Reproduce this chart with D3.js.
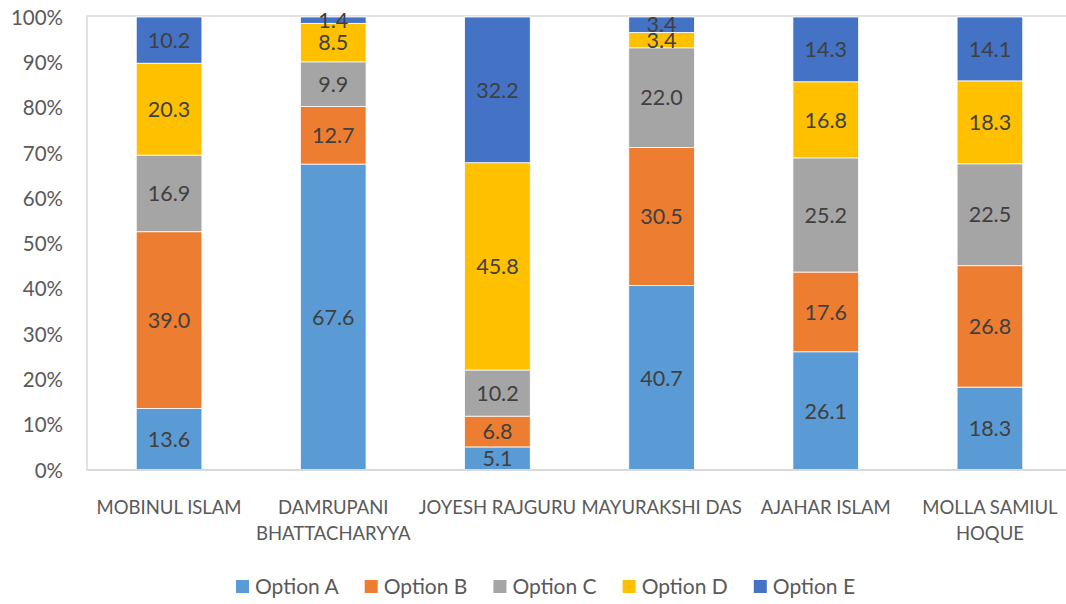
<!DOCTYPE html>
<html>
<head>
<meta charset="utf-8">
<script src="https://cdn.jsdelivr.net/npm/d3@7"></script>
<style>
  html, body { margin: 0; padding: 0; background: #fff; }
  svg { display: block; font-family: Lato, "Open Sans", sans-serif; }
</style>
</head>
<body>
<svg id="chart" width="1066" height="604"></svg>
<script>
const categories = [
  ["MOBINUL ISLAM"],
  ["DAMRUPANI", "BHATTACHARYYA"],
  ["JOYESH RAJGURU"],
  ["MAYURAKSHI DAS"],
  ["AJAHAR ISLAM"],
  ["MOLLA SAMIUL", "HOQUE"]
];
const seriesNames = ["Option A", "Option B", "Option C", "Option D", "Option E"];
const optionA = [13.6, 67.6, 5.1, 40.7, 26.1, 18.3];
const optionB = [39.0, 12.7, 6.8, 30.5, 17.6, 26.8];
const optionC = [16.9, 9.9, 10.2, 22.0, 25.2, 22.5];
const optionD = [20.3, 8.5, 45.8, 3.4, 16.8, 18.3];
const optionE = [10.2, 1.4, 32.2, 3.4, 14.3, 14.1];
const yTicks = [0, 0.1, 0.2, 0.3, 0.4, 0.5, 0.6, 0.7, 0.8, 0.9, 1.0];
const colors = ["#5B9BD5", "#ED7D31", "#A5A5A5", "#FFC000", "#4472C4"];

const seriesValues = [optionA, optionB, optionC, optionD, optionE];
const rows = categories.map((c, i) => {
  const r = { key: i };
  seriesNames.forEach((s, j) => r[s] = seriesValues[j][i]);
  return r;
});

const svg = d3.select("#chart");
const pLeft = 87, pRight = 1072, pTop = 17, pBottom = 470;

const x = d3.scaleBand().domain(d3.range(categories.length)).range([pLeft, pRight]).paddingInner(0.6).paddingOuter(0.3);
const y = d3.scaleLinear().domain([0, 1]).range([pBottom, pTop]);

const stack = d3.stack().keys(seriesNames).offset(d3.stackOffsetExpand);
const stacked = stack(rows);

// plot frame
svg.append("rect")
  .attr("x", pLeft).attr("y", pTop - 1)
  .attr("width", pRight - pLeft).attr("height", pBottom - pTop + 1)
  .attr("fill", "none").attr("stroke", "#D9D9D9").attr("stroke-width", 1.5);

// bars
const layers = svg.append("g").selectAll("g").data(stacked).join("g")
  .attr("fill", (d, i) => colors[i]);
layers.selectAll("rect").data(d => d).join("rect")
  .attr("x", (d, i) => x(i))
  .attr("width", x.bandwidth())
  .attr("y", d => y(d[1]))
  .attr("height", d => y(d[0]) - y(d[1]))
  .attr("stroke", "#ffffff").attr("stroke-width", 0.8);

// data labels
const labelG = svg.append("g");
stacked.forEach((layer, si) => {
  labelG.selectAll(null).data(layer).join("text")
    .attr("x", (d, i) => x(i) + x.bandwidth() / 2)
    .attr("y", d => (y(d[0]) + y(d[1])) / 2)
    .attr("dy", "0.36em")
    .attr("text-anchor", "middle")
    .attr("font-size", 21.5)
    .attr("fill", "#404040")
    .text((d, i) => seriesValues[si][i].toFixed(1));
});

// y axis
const yAxis = d3.axisLeft(y).tickValues(yTicks).tickFormat(d3.format(".0%")).tickSize(0).tickPadding(0);
const yg = svg.append("g").attr("transform", `translate(${pLeft - 24},0)`).call(yAxis);
yg.select(".domain").remove();
yg.selectAll("text").attr("font-size", 20.5).attr("fill", "#595959").attr("font-family", "Lato, sans-serif").attr("dy", "0.35em");

// x axis baseline
svg.append("line").attr("x1", pLeft).attr("x2", pRight).attr("y1", pBottom).attr("y2", pBottom)
  .attr("stroke", "#D9D9D9").attr("stroke-width", 2);

// x category labels
const xg = svg.append("g");
categories.forEach((lines, i) => {
  const t = xg.append("text")
    .attr("x", x(i) + x.bandwidth() / 2)
    .attr("y", 508)
    .attr("text-anchor", "middle")
    .attr("font-size", 18.5)
    .attr("fill", "#595959");
  lines.forEach((ln, k) => {
    t.append("tspan").attr("x", x(i) + x.bandwidth() / 2).attr("dy", k === 0 ? "0.35em" : 26).text(ln);
  });
});

// legend
const legend = svg.append("g");
let lx = 236;
seriesNames.forEach((s, i) => {
  const g = legend.append("g").attr("transform", `translate(${lx},0)`);
  g.append("rect").attr("x", 0).attr("y", 580).attr("width", 13).attr("height", 13).attr("fill", colors[i]);
  const t = g.append("text").attr("x", 19).attr("y", 587).attr("dy", "0.35em")
    .attr("font-size", 21).attr("fill", "#595959").text(s);
  const w = t.node().getComputedTextLength();
  lx += 19 + w + 26;
});
</script>
</body>
</html>
